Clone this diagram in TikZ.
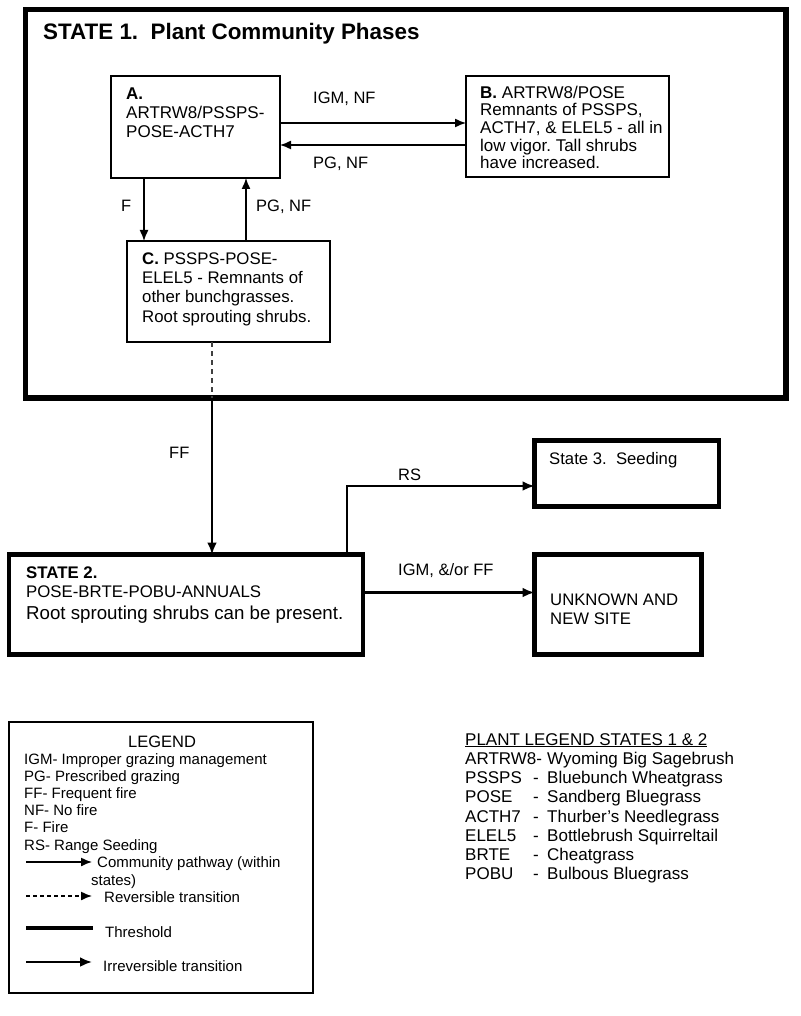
\documentclass[tikz,border=0pt]{standalone}
\usepackage{fontspec}
\setmainfont{Liberation Sans}
\usetikzlibrary{arrows.meta}
\frenchspacing

\begin{document}
\begin{tikzpicture}[x=1pt, y=-1pt,
    phase/.style={draw, line width=1.4pt, outer sep=0pt},
    statebox/.style={draw, line width=4.5pt, outer sep=0pt},
    txt/.style={inner sep=0pt, anchor=base west, align=left, font=\fontsize{17}{19}\selectfont},
    lbl/.style={inner sep=0pt, anchor=base west, font=\fontsize{16.5}{19}\selectfont},
    leg/.style={inner sep=0pt, anchor=base west, font=\fontsize{15}{17}\selectfont},
    plt/.style={inner sep=0pt, anchor=base west, font=\fontsize{17}{19}\selectfont},
    pathway/.style={line width=1.4pt, -{Latex[length=11pt,width=9pt]}},
    thresh/.style={line width=2.6pt, -{Latex[length=12pt,width=10pt]}}]
  \useasboundingbox (0,0) rectangle (800,1016);

  % state 1 and its phases
  \node[statebox, line width=5.5pt, minimum width=760.5, minimum height=388.5] (S1) at (405.75,203.75) {};
  \node[inner sep=0pt, anchor=base west, font=\bfseries\fontsize{22.4}{26}\selectfont] (title) at (43,40) {STATE 1.\ \ Plant Community Phases};

  \node[phase, minimum width=169, minimum height=102] (A) at (195.5,127) {};
  \node[phase, minimum width=203, minimum height=101] (B) at (567.5,126.5) {};
  \node[phase, minimum width=203, minimum height=101] (C) at (228.5,291.5) {};
  \node[txt] (Atxt) at (126,138) {\textbf{A.}\\ARTRW8/PSSPS-\\POSE-ACTH7};
  \node[txt, font=\fontsize{17}{17.7}\selectfont] (Btxt) at (480,169) {\textbf{B.} ARTRW8/POSE\\Remnants of PSSPS,\\ACTH7, \& ELEL5 - all in\\low vigor. Tall shrubs\\have increased.};
  \node[txt, font=\fontsize{16.8}{19.3}\selectfont] (Ctxt) at (142,322) {\textbf{C.} PSSPS-POSE-\\ELEL5 - Remnants of\\other bunchgrasses.\\Root sprouting shrubs.};

  \draw[pathway] ([yshift=4pt]A.east) -- ([yshift=4pt]A.east -| B.west);
  \draw[pathway] ([yshift=-18.5pt]B.west) -- ([yshift=-18.5pt]B.west -| A.east);
  \draw[pathway] ([xshift=33pt]A.south west) -- ([xshift=33pt]A.south west |- C.north);
  \draw[pathway] ([xshift=119pt]C.north west) -- ([xshift=119pt]C.north west |- A.south);
  \node[lbl] (igmnf) at (313,104) {IGM, NF};
  \node[lbl] (pgnf) at (313,169) {PG, NF};
  \node[lbl] (f) at (121,212) {F};
  \node[lbl] (pgnf2) at (256,212) {PG, NF};

  % other states
  \node[statebox, minimum width=354, minimum height=100] (S2) at (186,604.5) {};
  \node[statebox, minimum width=184.5, minimum height=66] (S3) at (626.75,473.5) {};
  \node[statebox, minimum width=167, minimum height=100] (UN) at (618,604.5) {};
  \node[txt, font=\fontsize{16.8}{19}\selectfont] (S2txt) at (26,619) {\textbf{STATE 2.}\\POSE-BRTE-POBU-ANNUALS\\[3pt]{\fontsize{18.7}{21}\selectfont Root sprouting shrubs can be present.}};
  \node[txt, font=\fontsize{16.7}{19}\selectfont] (S3txt) at (549,464) {State 3.\ \ Seeding};
  \node[txt, font=\fontsize{16.7}{19}\selectfont] (UNtxt) at (550,624) {UNKNOWN AND\\NEW SITE};

  \coordinate (cut) at ([xshift=85pt]C.south west |- S1.south);
  \draw[line width=1.4pt, black!75, dash pattern=on 5pt off 4pt] ([xshift=85pt]C.south west) -- (cut);
  \draw[thresh] (cut) -- (cut |- S2.north);
  \draw[thresh] ([xshift=338pt]S2.north west) |- ([yshift=-12.5pt]S3.west);
  \draw[thresh] ([yshift=12pt]S2.east) -- ([yshift=12pt]S2.east -| UN.west);
  \node[lbl] (ff) at (169,458) {FF};
  \node[lbl] (rs) at (398,480) {RS};
  \node[lbl] (igmff) at (398,575) {IGM, \&/or FF};

  % legend
  \node[phase, minimum width=304, minimum height=271] (leg) at (161,857.5) {};
  \node[leg, anchor=base, font=\fontsize{16.5}{19}\selectfont] (legttl) at (162,747) {LEGEND};
  \foreach \t [count=\i from 0] in {IGM- Improper grazing management, PG- Prescribed grazing, FF- Frequent fire, NF- No fire, F- Fire, RS- Range Seeding}
    \node[leg] (legitem\i) at (24,{764+17.2*\i}) {\t};
  \node[leg] (kcom) at (97,867) {Community pathway (within};
  \node[leg] (kcom2) at (91,885) {states)};
  \node[leg] (krev) at (104,902) {Reversible transition};
  \node[leg] (kthr) at (105,937) {Threshold};
  \node[leg] (kirr) at (103,971) {Irreversible transition};
  \draw[pathway] (26,862) -- (92,862);
  \draw[pathway, dash pattern=on 4pt off 3pt] (26,896) -- (92,896);
  \draw[line width=4pt] (26,928) -- (93,928);
  \draw[thresh] (26,962) -- (92,962);

  \node[plt] (pltttl) at (465,745) {\underline{PLANT LEGEND STATES 1 \& 2}};
  \node[plt] (code0) at (465,764.5) {ARTRW8-};
  \node[plt] (name0) at (547,764.5) {Wyoming Big Sagebrush};
  \foreach \c/\n [count=\i] in {PSSPS/Bluebunch Wheatgrass, POSE/Sandberg Bluegrass, ACTH7/Thurber’s Needlegrass, ELEL5/Bottlebrush Squirreltail, BRTE/Cheatgrass, POBU/Bulbous Bluegrass} {
    \node[plt] (code\i) at (465,{764.5+19.2*\i}) {\c};
    \node[plt] (dash\i) at (533,{764.5+19.2*\i}) {-};
    \node[plt] (name\i) at (547,{764.5+19.2*\i}) {\n};
  }
\end{tikzpicture}
\end{document}
